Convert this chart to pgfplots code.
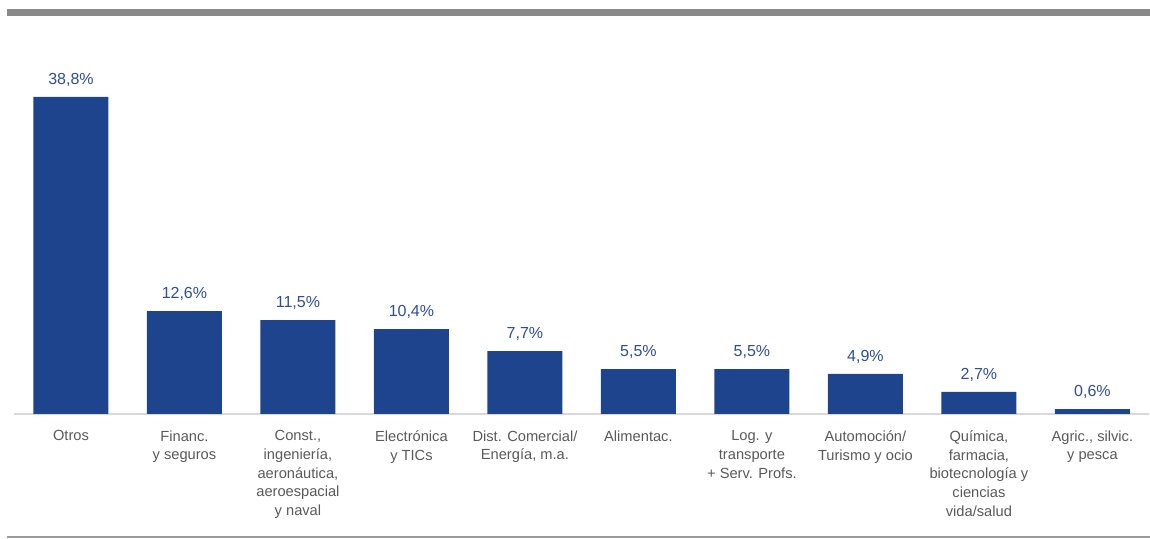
\documentclass[border=0pt]{standalone}
\usepackage{pgfplots}
\pgfplotsset{compat=1.18}
\usepackage{fontspec}
\setmainfont{Liberation Sans}
\definecolor{barblue}{HTML}{1F448E}
\definecolor{valblue}{HTML}{2E4D9C}
\definecolor{labgray}{HTML}{595959}
\definecolor{topgray}{HTML}{898989}
\definecolor{basegray}{HTML}{D9D9D9}
\definecolor{botgray}{HTML}{9A9A9A}
\begin{document}
\begin{tikzpicture}
\useasboundingbox (-10.65pt,-93.75pt) rectangle (851.9pt,310.5pt);
\begin{axis}[
  at={(0,0)}, anchor=south west,
  scale only axis,
  width=851.25pt, height=300.75pt,
  xmin=-0.5, xmax=9.5, ymin=0, ymax=49.08,
  axis x line=bottom, axis y line=none,
  axis line style={basegray, line width=0.8pt, -},
  xtick=data,
  major tick length=0pt,
  xticklabels={Otros, {Financ.\\y seguros}, {Const.,\\ingeniería,\\aeronáutica,\\aeroespacial\\y naval}, {Electrónica\\y TICs}, {Dist. Comercial/\\Energía, m.a.}, {Alimentac.}, {Log. y\\transporte\\+ Serv. Profs.}, {Automoción/\\Turismo y ocio}, {Química,\\farmacia,\\biotecnología y\\ciencias\\vida/salud}, {Agric., silvic.\\y pesca}},
  xticklabel style={align=center, font=\fontsize{11}{14}\selectfont, text=labgray, anchor=north, yshift=-9pt},
  ybar, bar width=56.25pt,
  /pgf/number format/assume math mode=true,
  nodes near coords={\pgfmathprintnumber[fixed,fixed zerofill,precision=1,use comma]{\pgfplotspointmeta}\%},
  nodes near coords style={font=\fontsize{12}{14}\selectfont, text=valblue, anchor=south, yshift=4pt},
  clip=false,
]
\addplot[fill=barblue, draw=none] coordinates {
(0,38.8) (1,12.6) (2,11.5) (3,10.4) (4,7.7) (5,5.5) (6,5.5) (7,4.9) (8,2.7) (9,0.6)
};
\end{axis}
\fill[topgray] (-5.4pt,298.5pt) rectangle (851.9pt,303.75pt);
\draw[botgray, line width=1.2pt] (-5.4pt,-92.25pt) -- (851.9pt,-92.25pt);
\end{tikzpicture}
\end{document}
